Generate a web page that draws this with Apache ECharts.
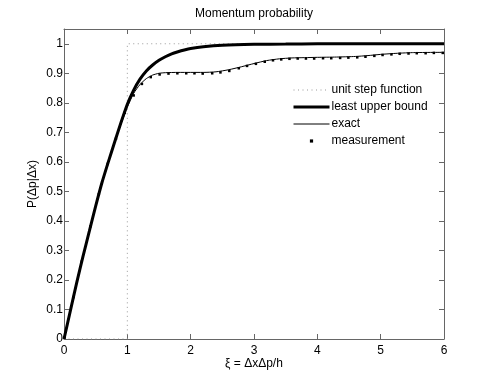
<!DOCTYPE html>
<html>
<head>
<meta charset="utf-8">
<script src="https://cdn.jsdelivr.net/npm/echarts@6/dist/echarts.min.js"></script>
<style>
  html, body { margin: 0; padding: 0; background: #fff; }
  #chart { width: 491px; height: 382px; }
</style>
</head>
<body>
<div id="chart"></div>
<script>
// unit step: 0 below xi = 1, 1 above
const stepX = [0, 1, 1, 6]
const stepY = [0, 0, 1, 1]

// least upper bound (thick curve)
const lubX = [0, 0.1, 0.2, 0.3, 0.4, 0.5, 0.6, 0.7, 0.8, 0.9, 1.0, 1.1, 1.2, 1.3, 1.4, 1.5, 1.6, 1.7, 1.8, 1.9, 2.0, 2.2, 2.5, 3.0, 3.5, 4.0, 5.0, 6.0]
const lubY = [0, 0.095, 0.19, 0.28, 0.365, 0.45, 0.53, 0.6, 0.667, 0.733, 0.795, 0.843, 0.88, 0.908, 0.928, 0.944, 0.956, 0.966, 0.973, 0.979, 0.984, 0.99, 0.995, 0.998, 0.999, 1, 1, 1]

// exact (thin curve)
const exactX = [0, 0.1, 0.2, 0.3, 0.4, 0.5, 0.6, 0.7, 0.8, 0.9, 1.0, 1.1, 1.2, 1.3, 1.4, 1.5, 1.6, 1.8, 2.0, 2.2, 2.4, 2.6, 2.8, 3.0, 3.2, 3.4, 3.6, 3.8, 4.0, 4.3, 4.6, 4.8, 5.0, 5.2, 5.5, 6.0]
const exactY = [0, 0.095, 0.19, 0.28, 0.365, 0.45, 0.53, 0.6, 0.665, 0.728, 0.785, 0.832, 0.862, 0.882, 0.894, 0.9, 0.902, 0.903, 0.903, 0.903, 0.905, 0.912, 0.922, 0.933, 0.943, 0.949, 0.952, 0.953, 0.954, 0.955, 0.957, 0.96, 0.964, 0.967, 0.97, 0.971]

// measurement samples
const measX = [0.01, 0.15, 0.28, 0.42, 0.55, 0.69, 0.82, 0.96, 1.10, 1.23, 1.37, 1.51, 1.65, 1.79, 1.93, 2.06, 2.19, 2.34, 2.47, 2.61, 2.76, 2.89, 3.03, 3.17, 3.30, 3.43, 3.56, 3.69, 3.82, 3.95, 4.09, 4.22, 4.36, 4.49, 4.63, 4.76, 4.90, 5.03, 5.17, 5.30, 5.44, 5.57, 5.71, 5.84, 5.98]
const measY = [0.005, 0.142, 0.262, 0.382, 0.49, 0.593, 0.678, 0.766, 0.825, 0.864, 0.887, 0.896, 0.899, 0.9, 0.9, 0.9, 0.899, 0.9, 0.903, 0.908, 0.917, 0.925, 0.932, 0.939, 0.944, 0.947, 0.949, 0.95, 0.95, 0.95, 0.951, 0.951, 0.952, 0.953, 0.954, 0.956, 0.959, 0.962, 0.964, 0.966, 0.967, 0.968, 0.968, 0.969, 0.969]

const xTicks = [0, 1, 2, 3, 4, 5, 6]
const yTicks = [0, 0.1, 0.2, 0.3, 0.4, 0.5, 0.6, 0.7, 0.8, 0.9, 1]

const pairs = (xs, ys) => xs.map((x, i) => [x, ys[i]])

const font = 'Liberation Sans, Arial, sans-serif'
const axisColor = '#666'

const baseAxis = {
  type: 'value',
  axisLine: { show: true, onZero: false, lineStyle: { color: axisColor, width: 1 } },
  axisTick: { show: true, inside: true, length: 5, lineStyle: { color: axisColor } },
  splitLine: { show: false }
}

const chart = echarts.init(document.getElementById('chart'))
chart.setOption({
  animation: false,
  title: {
    text: 'Momentum probability',
    left: 254,
    top: 8,
    padding: 0,
    textAlign: 'center',
    textStyle: { fontFamily: font, fontSize: 12, fontWeight: 'normal', color: '#000' }
  },
  grid: { left: 64, right: 47, top: 29, bottom: 43 },
  legend: {
    orient: 'vertical',
    left: 292,
    top: 84,
    padding: 0,
    itemWidth: 36,
    itemHeight: 4,
    itemGap: 5,
    textStyle: { fontFamily: font, fontSize: 12, color: '#000', padding: [0, 0, 0, -3] },
    data: [
      { name: 'unit step function', itemStyle: { opacity: 0 }, lineStyle: { width: 1, color: '#999', type: [1, 3.5] } },
      { name: 'least upper bound', itemStyle: { opacity: 0 }, lineStyle: { width: 3, color: '#000' } },
      { name: 'exact', itemStyle: { opacity: 0 }, lineStyle: { width: 1, color: '#000' } },
      { name: 'measurement' }
    ]
  },
  xAxis: [
    Object.assign({}, baseAxis, {
      position: 'bottom',
      min: xTicks[0],
      max: xTicks[xTicks.length - 1],
      interval: 1,
      name: 'ξ = ΔxΔp/h',
      nameLocation: 'middle',
      nameGap: 19,
      nameMoveOverlap: false,
      nameTextStyle: { fontFamily: font, fontSize: 12, color: '#000' },
      axisLabel: { fontFamily: font, fontSize: 12, color: '#000', margin: 6 }
    }),
    Object.assign({}, baseAxis, {
      position: 'top',
      min: xTicks[0],
      max: xTicks[xTicks.length - 1],
      interval: 1,
      axisLabel: { show: false }
    })
  ],
  yAxis: [
    Object.assign({}, baseAxis, {
      position: 'left',
      min: yTicks[0],
      max: 1.05,
      interval: 0.1,
      name: 'P(Δp|Δx)',
      nameLocation: 'middle',
      nameGap: 25,
      nameMoveOverlap: false,
      nameTextStyle: { fontFamily: font, fontSize: 12, color: '#000' },
      axisLabel: {
        fontFamily: font, fontSize: 12, color: '#000', margin: 1,
        showMaxLabel: false,
        formatter: (v) => (v > 1.0001 ? '' : String(Math.round(v * 10) / 10))
      }
    }),
    Object.assign({}, baseAxis, {
      position: 'right',
      min: yTicks[0],
      max: 1.05,
      interval: 0.1,
      axisLabel: { show: false }
    })
  ],
  series: [
    {
      name: 'measurement',
      type: 'line',
      symbol: 'rect',
      symbolSize: 2.5,
      showSymbol: true,
      z: 1,
      color: '#000',
      itemStyle: { color: '#000', borderWidth: 0 },
      lineStyle: { width: 0, opacity: 0 },
      data: pairs(measX, measY)
    },
    {
      name: 'unit step function',
      type: 'line',
      symbol: 'none',
      z: 2,
      color: '#888',
      lineStyle: { color: '#999', width: 1, type: [1, 3.5] },
      data: pairs(stepX, stepY)
    },
    {
      name: 'least upper bound',
      type: 'line',
      symbol: 'none',
      smooth: 0.2,
      z: 10,
      color: '#000',
      lineStyle: { color: '#000', width: 3 },
      data: pairs(lubX, lubY)
    },
    {
      name: 'exact',
      type: 'line',
      symbol: 'none',
      smooth: 0.2,
      z: 10,
      color: '#000',
      lineStyle: { color: '#000', width: 1 },
      data: pairs(exactX, exactY)
    }
  ]
})
</script>
</body>
</html>
